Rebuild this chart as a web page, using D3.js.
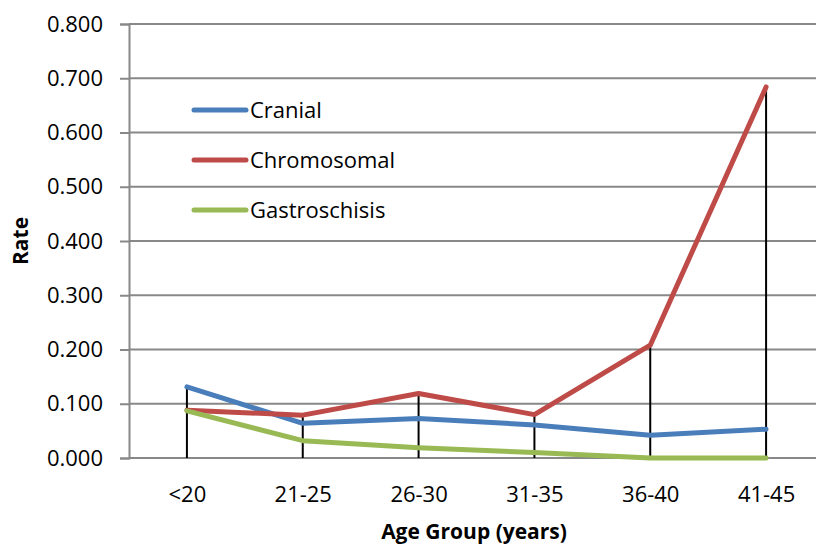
<!DOCTYPE html>
<html>
<head>
<meta charset="utf-8">
<script src="https://cdn.jsdelivr.net/npm/d3@7"></script>
<style>
  body { margin: 0; background: #fff; }
  svg { display: block; font-family: "Open Sans", Lato, sans-serif; }
</style>
</head>
<body>
<div id="chartDiv"></div>
<script>
// data
let ageGroups = ["<20", "21-25", "26-30", "31-35", "36-40", "41-45"];
let cranial = [0.131, 0.064, 0.073, 0.061, 0.042, 0.053];
let chromosomal = [0.088, 0.079, 0.119, 0.080, 0.208, 0.684];
let gastroschisis = [0.087, 0.032, 0.019, 0.010, 0.000, 0.000];
let seriesNames = ["Cranial", "Chromosomal", "Gastroschisis"];
let seriesColors = ["#4a7ebb", "#be4b48", "#98b954"];
let yTicks = [0, 0.1, 0.2, 0.3, 0.4, 0.5, 0.6, 0.7, 0.8];

function drawChart(){
	let width = 816, height = 545;
	let plotLeft = 129, plotRight = 824, plotTop = 24, plotBottom = 458;

	let svg = d3.select("#chartDiv").append("svg")
		.attr("width", width)
		.attr("height", height);

	let xScale = d3.scalePoint()
		.domain(ageGroups)
		.range([plotLeft, plotRight])
		.padding(0.5);

	let yScale = d3.scaleLinear()
		.domain([0, 0.8])
		.range([plotBottom, plotTop]);

	// gridlines
	svg.append("g")
		.selectAll("line")
		.data(yTicks)
		.enter().append("line")
		.attr("x1", plotLeft).attr("x2", plotRight)
		.attr("y1", d => yScale(d)).attr("y2", d => yScale(d))
		.attr("stroke", "#888").attr("stroke-width", 2);

	// y axis
	let yAxis = d3.axisLeft(yScale)
		.tickValues(yTicks)
		.tickFormat(d3.format(".3f"))
		.tickSize(9)
		.tickPadding(17);

	let yAxisG = svg.append("g")
		.attr("transform", "translate(" + plotLeft + ",0)")
		.call(yAxis);
	yAxisG.select(".domain").attr("stroke", "#888").attr("stroke-width", 2);
	yAxisG.selectAll(".tick line").attr("stroke", "#888").attr("stroke-width", 2);
	yAxisG.selectAll(".tick text")
		.attr("font-size", 22)
		.attr("fill", "#000")
		.style("font-family", "'Open Sans', Lato, sans-serif");

	// x axis labels
	let xAxis = d3.axisBottom(xScale).tickSize(0).tickPadding(28);
	let xAxisG = svg.append("g")
		.attr("transform", "translate(0," + plotBottom + ")")
		.call(xAxis);
	xAxisG.select(".domain").remove();
	xAxisG.selectAll(".tick text")
		.attr("font-size", 22)
		.attr("fill", "#000")
		.style("font-family", "'Open Sans', Lato, sans-serif");

	let allSeries = [cranial, chromosomal, gastroschisis];

	// drop lines from the highest point down to the axis
	svg.append("g")
		.selectAll("line")
		.data(ageGroups)
		.enter().append("line")
		.attr("x1", d => xScale(d)).attr("x2", d => xScale(d))
		.attr("y1", (d, i) => yScale(d3.max(allSeries, s => s[i])))
		.attr("y2", yScale(0))
		.attr("stroke", "#000").attr("stroke-width", 2);

	let valueline = d3.line()
		.x((d, i) => xScale(ageGroups[i]))
		.y(d => yScale(d));

	svg.append("g")
		.selectAll("path")
		.data(allSeries)
		.enter().append("path")
		.attr("d", valueline)
		.attr("fill", "none")
		.attr("stroke", (d, i) => seriesColors[i])
		.attr("stroke-width", 5)
		.attr("stroke-linejoin", "round")
		.attr("stroke-linecap", "round");

	// legend
	let legend = svg.append("g")
		.selectAll("g")
		.data(seriesNames)
		.enter().append("g")
		.attr("transform", (d, i) => "translate(194," + (110 + i * 50) + ")");
	legend.append("line")
		.attr("x1", 0).attr("x2", 52)
		.attr("stroke", (d, i) => seriesColors[i])
		.attr("stroke-width", 5)
		.attr("stroke-linecap", "round");
	legend.append("text")
		.attr("x", 56).attr("y", 8)
		.attr("font-size", 22)
		.text(d => d);

	// axis titles
	svg.append("text")
		.attr("transform", "translate(28,241) rotate(-90)")
		.attr("text-anchor", "middle")
		.attr("font-size", 21)
		.attr("font-weight", "bold")
		.text("Rate");

	svg.append("text")
		.attr("x", 474).attr("y", 539)
		.attr("text-anchor", "middle")
		.attr("font-size", 21)
		.attr("font-weight", "bold")
		.text("Age Group (years)");
}

drawChart();
</script>
</body>
</html>
